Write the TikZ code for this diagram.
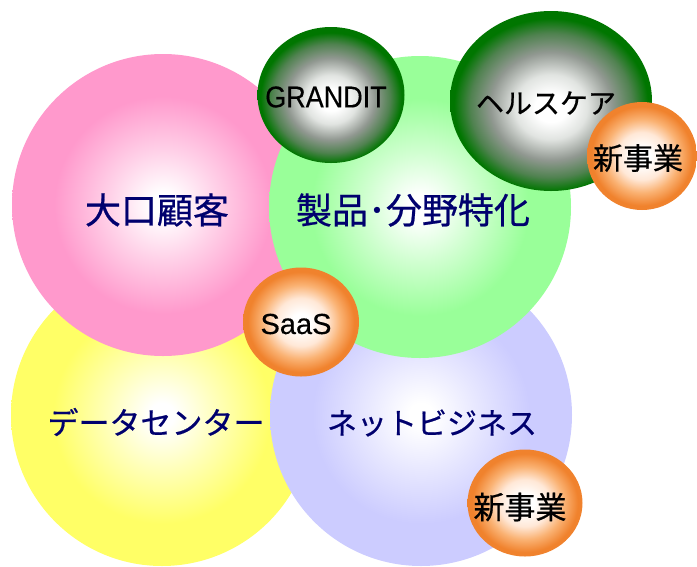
\documentclass[tikz,border=0pt]{standalone}
\usepackage{fontspec}
\usepackage{graphicx}
\setmainfont{Noto Sans CJK JP}
\newfontfamily\cjkmed{Noto Sans CJK JP}[FakeBold=0.6]
\newfontfamily\latinf{Liberation Sans}[FakeBold=0.4]
\usetikzlibrary{shapes.geometric}
\definecolor{cpink}{RGB}{255,153,204}
\definecolor{cyellow}{RGB}{255,255,102}
\definecolor{cgreen}{RGB}{153,255,153}
\definecolor{clav}{RGB}{204,204,255}
\colorlet{cpinkm}{cpink!45!white}
\colorlet{cyellowm}{cyellow!45!white}
\colorlet{cgreenm}{cgreen!45!white}
\colorlet{clavm}{clav!45!white}
\definecolor{dkgreen}{RGB}{0,118,0}
\definecolor{dkgreenb}{RGB}{80,130,80}
\definecolor{midgray}{RGB}{145,152,145}
\definecolor{ltgray}{RGB}{225,228,225}
\definecolor{orng}{RGB}{240,130,45}
\definecolor{orngm}{RGB}{250,178,115}
\definecolor{orngl}{RGB}{255,232,215}
\definecolor{navy}{RGB}{0,0,110}
\pgfdeclareradialshading{ballgreen}{\pgfpoint{0bp}{-2bp}}{color(0bp)=(white); color(4bp)=(white); color(9bp)=(ltgray); color(15bp)=(midgray); color(20bp)=(dkgreenb); color(24bp)=(dkgreen); color(50bp)=(dkgreen)}
\pgfdeclareradialshading{ballorange}{\pgfpoint{0bp}{0bp}}{color(0bp)=(white); color(4bp)=(white); color(11bp)=(orngl); color(17bp)=(orngm); color(23bp)=(orng); color(50bp)=(orng)}
\pgfdeclareradialshading{shpink}{\pgfpoint{0bp}{0bp}}{color(0bp)=(white); color(2bp)=(white); color(9bp)=(cpinkm); color(18bp)=(cpink); color(50bp)=(cpink)}
\pgfdeclareradialshading{shyellow}{\pgfpoint{0bp}{0bp}}{color(0bp)=(white); color(2bp)=(white); color(9bp)=(cyellowm); color(18bp)=(cyellow); color(50bp)=(cyellow)}
\pgfdeclareradialshading{shgreen}{\pgfpoint{0bp}{0bp}}{color(0bp)=(white); color(2bp)=(white); color(9bp)=(cgreenm); color(18bp)=(cgreen); color(50bp)=(cgreen)}
\pgfdeclareradialshading{shlav}{\pgfpoint{0bp}{0bp}}{color(0bp)=(white); color(2bp)=(white); color(9bp)=(clavm); color(18bp)=(clav); color(50bp)=(clav)}
\begin{document}
\begin{tikzpicture}[x=1pt,y=-1pt,
  bigc/.style={circle, minimum size=302pt, inner sep=0pt, draw=none, shade},
  greenball/.style={ellipse, inner sep=0pt, draw=none, shade, shading=ballgreen},
  orangeball/.style={ellipse, inner sep=0pt, draw=none, shade, shading=ballorange},
  biglbl/.style={text=navy, inner sep=0pt},
  smalllbl/.style={text=black, inner sep=0pt}]
\useasboundingbox (0,0) rectangle (697,566);
% large circles
\node[bigc, shading=shyellow] (yel) at (162,415) {};
\node[bigc, shading=shpink] (pink) at (163,205) {};
\node[bigc, shading=shlav] (lav) at (421,415) {};
\node[bigc, shading=shgreen] (grn) at (420,207) {};
% dark green balls
\node[greenball, minimum width=147pt, minimum height=136pt] (grandit) at (331,95) {};
\node[greenball, minimum width=202pt, minimum height=180pt] (health) at (551,101) {};
% orange balls
\node[orangeball, minimum width=110pt, minimum height=108pt] (newtr) at (642,156) {};
\node[orangeball, minimum width=116pt, minimum height=109pt] (saas) at (301,322) {};
\node[orangeball, minimum width=115pt, minimum height=107pt] (newb) at (525,503) {};
% labels
\node[biglbl, font=\cjkmed\fontsize{36pt}{40pt}\selectfont] (tpink) at (157,210) {大口顧客};
\node[biglbl, font=\cjkmed\fontsize{36pt}{40pt}\selectfont] (tgrn) at (413,210) {製品･分野特化};
\node[biglbl, font=\cjkmed\fontsize{31pt}{35pt}\selectfont] (tyel) at (156,422) {データセンター};
\node[biglbl, font=\cjkmed\fontsize{30pt}{34pt}\selectfont] (tlav) at (432,423) {ネットビジネス};
\node[smalllbl, font=\latinf\fontsize{30pt}{34pt}\selectfont] (tgrandit) at (326,97) {\scalebox{0.9}[1]{GRANDIT}};
\node[smalllbl, font=\cjkmed\fontsize{28pt}{32pt}\selectfont] (thealth) at (546,103) {ヘルスケア};
\node[smalllbl, font=\cjkmed\fontsize{30pt}{34pt}\selectfont] (tnewtr) at (638,158) {新事業};
\node[smalllbl, font=\latinf\fontsize{29pt}{33pt}\selectfont] (tsaas) at (296,324) {SaaS};
\node[smalllbl, font=\cjkmed\fontsize{31pt}{35pt}\selectfont] (tnewb) at (520,507) {新事業};
\end{tikzpicture}
\end{document}
